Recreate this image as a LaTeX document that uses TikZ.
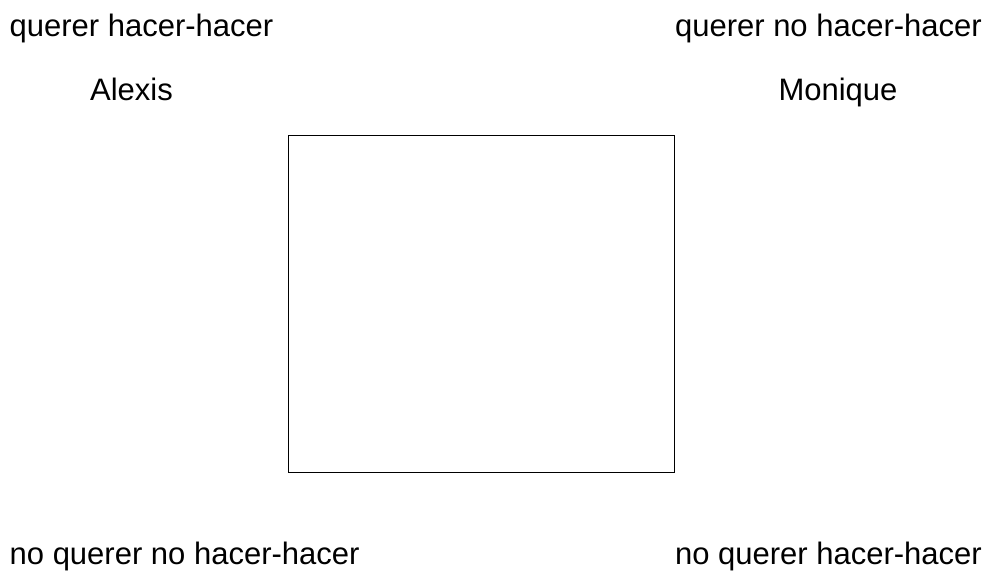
\documentclass[tikz,border=0pt]{standalone}
\usepackage{fontspec}
\setmainfont{Liberation Sans}
\usepackage{tikz}

\begin{document}
\begin{tikzpicture}[
    x=1pt,
    y=-1pt,
    lbl/.style={font=\fontsize{31}{37}\selectfont, inner sep=0pt},
    sqline/.style={draw=black, line width=1.3pt}
]
\useasboundingbox (0,0) rectangle (991,571);

\node[lbl,anchor=base west] (qhh) at (9.5,36.5) {querer hacer-hacer};
\node[lbl,anchor=base east] (qnhh) at (982,36.5) {querer no hacer-hacer};
\node[lbl,anchor=base] (alexis) at (131.5,100) {Alexis};
\node[lbl,anchor=base] (monique) at (838,100) {Monique};

\draw[sqline] (288.5,135.5) rectangle (674.5,472.5);

\node[lbl,anchor=base west] (nqnhh) at (9.5,564) {no querer no hacer-hacer};
\node[lbl,anchor=base east] (nqhh) at (982,564) {no querer hacer-hacer};
\end{tikzpicture}
\end{document}
